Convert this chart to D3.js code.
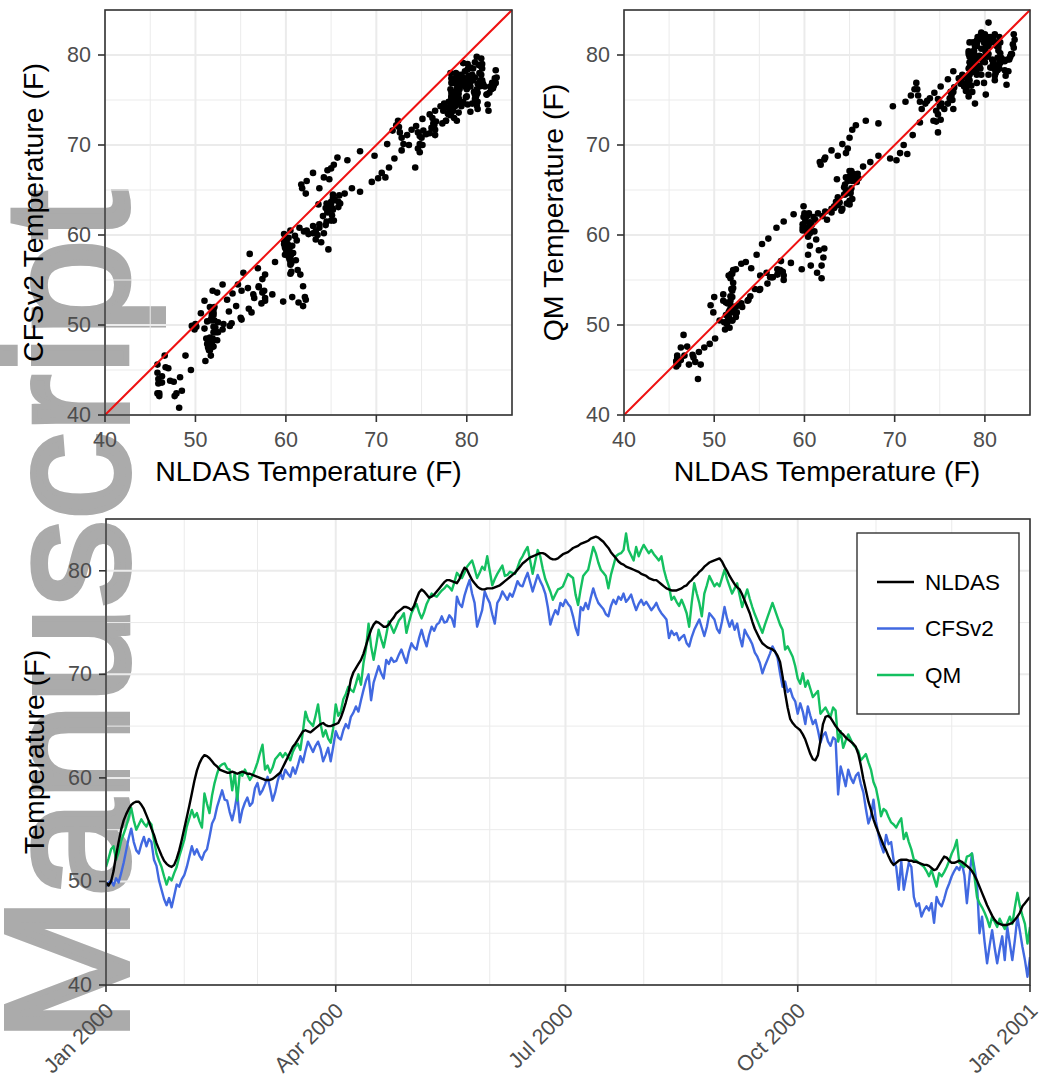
<!DOCTYPE html>
<html>
<head>
<meta charset="utf-8">
<script src="https://cdn.jsdelivr.net/npm/d3@7"></script>
<style>
  body { margin: 0; background: #fff; }
  text { font-family: "Liberation Sans", Arial, Helvetica, sans-serif; }
</style>
</head>
<body>
<svg width="1040" height="1086"></svg>
<script>
// Daily temperatures (F), Jan 1 2000 .. Jan 1 2001
var nldas = [
  49.9, 49.6, 50.0, 51.0, 52.5, 53.8, 55.0, 55.9, 56.5, 57.0,
  57.4, 57.6, 57.7, 57.7, 57.4, 57.0, 56.4, 55.8, 55.1, 54.5,
  53.7, 53.1, 52.5, 52.0, 51.7, 51.5, 51.4, 51.6, 52.2, 53.0,
  54.0, 55.1, 56.2, 57.3, 58.5, 59.7, 60.7, 61.4, 61.9, 62.2,
  62.1, 61.9, 61.6, 61.3, 61.1, 60.8, 60.7, 60.6, 60.5, 60.5,
  60.6, 60.5, 60.4, 60.5, 60.6, 60.5, 60.4, 60.4, 60.3, 60.2,
  60.1, 60.0, 59.9, 59.8, 59.8, 59.8, 59.9, 60.1, 60.3, 60.5,
  61.0, 61.5, 62.0, 62.5, 63.0, 63.3, 63.7, 64.1, 64.5, 64.6,
  64.5, 64.4, 64.6, 64.8, 65.0, 65.2, 65.3, 65.1, 65.0, 65.0,
  65.1, 65.2, 65.3, 65.8, 66.5, 67.3, 68.2, 69.5, 70.2, 70.6,
  71.0, 71.4, 72.0, 72.8, 73.6, 74.3, 74.8, 75.1, 75.0, 74.8,
  74.6, 74.6, 74.8, 75.2, 75.5, 75.9, 76.1, 76.3, 76.5, 76.5,
  76.4, 76.2, 76.6, 77.3, 77.9, 78.2, 78.0, 77.7, 77.4, 77.5,
  77.7, 78.0, 78.3, 78.6, 78.9, 79.1, 79.1, 79.0, 78.9, 78.8,
  79.2, 79.8, 80.3, 80.1, 79.6, 79.1, 78.8, 78.5, 78.3, 78.2,
  78.2, 78.3, 78.3, 78.3, 78.4, 78.5, 78.6, 78.8, 79.0, 79.2,
  79.4, 79.6, 79.8, 80.1, 80.4, 80.7, 80.9, 81.1, 81.3, 81.4,
  81.5, 81.6, 81.7, 81.7, 81.6, 81.4, 81.2, 81.1, 81.1, 81.2,
  81.4, 81.6, 81.7, 81.8, 82.0, 82.2, 82.3, 82.4, 82.6, 82.7,
  82.8, 82.9, 83.1, 83.2, 83.3, 83.2, 83.0, 82.8, 82.5, 82.2,
  81.8, 81.5, 81.2, 80.9, 80.7, 80.6, 80.4, 80.3, 80.2, 80.1,
  80.0, 79.9, 79.7, 79.6, 79.5, 79.3, 79.2, 79.1, 79.1, 78.9,
  78.7, 78.5, 78.3, 78.2, 78.1, 78.1, 78.1, 78.2, 78.3, 78.5,
  78.6, 78.9, 79.1, 79.4, 79.6, 79.9, 80.1, 80.4, 80.6, 80.8,
  80.9, 81.0, 81.1, 81.2, 80.9, 80.4, 80.0, 79.5, 79.1, 78.7,
  78.4, 78.2, 77.7, 77.1, 76.5, 75.9, 75.1, 74.4, 73.9, 73.4,
  73.0, 72.8, 72.6, 72.5, 72.4, 72.2, 71.8, 71.2, 69.8, 68.2,
  66.8, 65.7, 65.3, 65.0, 64.8, 64.6, 64.2, 63.7, 63.0, 62.3,
  61.8, 61.7, 62.2, 63.6, 65.2, 65.9, 66.0, 65.8, 65.4, 65.0,
  64.7, 64.4, 64.2, 63.9, 63.7, 63.5, 63.3, 63.0, 62.3, 61.2,
  59.9, 58.8, 57.7, 56.9, 56.0, 55.3, 54.7, 54.1, 53.5, 53.0,
  52.4, 51.9, 51.6, 51.8, 52.0, 52.1, 52.1, 52.1, 52.0, 52.0,
  51.9, 51.9, 51.8, 51.7, 51.6, 51.6, 51.5, 51.3, 51.1, 51.2,
  51.6, 52.0, 52.4, 52.3, 52.0, 51.8, 51.8, 51.9, 52.0, 51.9,
  51.7, 51.5, 51.3, 51.0, 50.6, 50.1, 49.5, 48.9, 48.3, 47.7,
  47.2, 46.7, 46.3, 46.0, 45.9, 45.8, 45.8, 45.8, 45.9, 46.0,
  46.3, 46.6, 47.0, 47.6, 47.9, 48.2, 48.5
];

var cfsv2 = [
  49.5, 49.9, 50.1, 49.6, 50.3, 49.9, 50.8, 51.8, 53.0, 54.2,
  55.1, 53.8, 53.0, 52.7, 53.6, 54.3, 53.4, 54.1, 53.8, 52.1,
  51.5, 50.1, 49.2, 48.3, 47.7, 48.4, 47.5, 48.6, 49.7, 49.5,
  50.2, 50.6, 51.4, 52.4, 53.4, 52.6, 53.1, 52.5, 52.1, 52.8,
  53.1, 54.3, 55.6, 56.1, 57.2, 58.0, 58.8, 57.9, 57.8, 56.7,
  55.9, 57.0, 58.5, 55.7, 56.9, 57.6, 58.1, 57.3, 57.6, 59.0,
  59.5, 58.4, 58.8, 59.4, 60.1, 59.0, 57.8, 58.6, 59.7, 60.5,
  59.9, 60.8, 60.4, 60.1, 61.0, 60.4, 61.2, 62.1, 61.5, 62.6,
  63.5, 63.0, 62.5, 63.1, 63.5, 62.8, 61.6, 62.2, 62.9, 61.6,
  63.0, 64.5, 63.9, 63.7, 64.6, 65.2, 64.8, 65.9, 66.3, 66.9,
  66.4, 67.5, 68.5, 69.4, 70.0, 67.5, 69.2, 70.0, 70.8, 70.1,
  69.6, 71.4, 71.0, 71.6, 71.2, 71.3, 71.9, 72.4, 71.7, 71.1,
  72.2, 73.0, 72.6, 72.4, 73.5, 74.3, 73.4, 72.7, 73.8, 74.6,
  74.2, 74.8, 75.0, 75.6, 75.0, 75.1, 75.7, 75.4, 74.6, 77.5,
  76.8, 76.5, 77.6, 78.4, 79.1, 77.8, 76.9, 74.6, 75.4, 76.2,
  78.0, 77.4, 76.9, 75.8, 74.9, 76.9, 77.3, 78.0, 77.6, 77.2,
  77.8, 77.5, 78.2, 79.0, 78.6, 78.5, 79.2, 79.8, 78.9, 78.0,
  78.8, 79.6, 79.0, 78.5, 77.8, 76.5, 74.8, 75.6, 76.2, 75.8,
  76.9, 76.6, 77.2, 76.8, 76.5, 75.6, 74.5, 73.8, 76.5, 76.2,
  76.9, 76.3, 77.4, 78.3, 77.5, 76.9, 76.6, 76.3, 75.8, 75.6,
  76.6, 77.2, 76.8, 77.5, 77.2, 77.8, 77.0, 77.3, 77.7, 76.9,
  76.2, 76.8, 77.2, 76.7, 77.0, 76.6, 76.2, 76.5, 76.9, 76.3,
  75.9, 75.6, 75.3, 73.5, 74.2, 73.8, 74.0, 73.3, 73.6, 73.8,
  73.0, 72.7, 73.6, 74.3, 74.8, 75.3, 74.5, 73.7, 74.6, 75.9,
  75.6, 75.3, 74.4, 74.0, 75.1, 76.5, 75.4, 74.6, 75.2, 74.3,
  74.9, 73.6, 72.7, 74.3, 73.8, 73.4, 72.9, 72.1, 71.7, 71.1,
  70.1, 70.8, 71.4, 72.0, 72.7, 72.2, 71.6, 70.1, 68.8, 69.3,
  68.3, 68.6, 67.8, 67.4, 66.2, 67.2, 66.4, 65.2, 66.9, 66.0,
  65.2, 65.6, 64.6, 63.4, 64.1, 64.4, 63.5, 63.1, 63.9, 63.7,
  58.4, 61.1, 60.2, 59.2, 60.8, 60.0, 59.5, 60.2, 60.5, 59.4,
  58.6, 57.0, 55.6, 56.3, 57.9, 55.8, 54.5, 53.5, 52.8, 54.5,
  53.6, 53.8, 52.0, 51.4, 49.2, 52.0, 49.2, 50.5, 51.8, 51.4,
  48.5, 47.6, 47.9, 46.6, 47.2, 47.6, 47.2, 47.9, 46.0, 48.5,
  47.9, 47.6, 48.3, 49.2, 49.8, 50.5, 51.0, 51.4, 51.1, 51.8,
  50.6, 47.9, 50.4, 52.7, 51.3, 49.8, 45.0, 46.6, 44.2, 42.1,
  43.8, 45.3, 43.6, 42.1, 43.5, 44.7, 42.4, 45.6, 44.0, 42.4,
  44.3, 46.6, 45.2, 43.7, 42.4, 40.8, 42.7
];

var qm = [
  51.4, 52.2, 53.1, 53.4, 52.1, 52.8, 53.9, 54.6, 55.3, 56.2,
  57.1, 55.9, 55.0, 55.5, 56.0, 55.6, 55.3, 55.8, 55.5, 54.0,
  52.7, 52.0, 51.4, 50.5, 49.7, 50.4, 50.1, 50.8, 51.4, 52.4,
  53.2, 54.0, 55.3, 56.1, 56.9, 56.2, 56.6, 55.8, 55.2, 58.5,
  57.5, 56.6, 58.3, 59.5, 60.4, 61.1, 61.3, 61.4, 60.9, 60.8,
  58.8, 60.5, 57.8, 60.5, 60.2, 60.8, 60.3, 59.8, 60.2, 60.8,
  61.5, 62.4, 63.2, 60.8, 61.2, 60.5, 61.0, 61.8, 62.1, 62.4,
  62.0, 62.4, 62.1, 61.7, 62.5, 63.0, 63.3, 62.7, 64.5, 66.4,
  65.6, 65.3, 65.0, 66.0, 67.1, 65.2, 64.0, 64.6, 63.8, 63.4,
  64.8, 67.1, 66.0, 66.4, 67.6, 68.1, 68.8, 68.5, 68.3, 69.1,
  70.0, 69.0, 71.1, 72.5, 74.9, 72.7, 71.4, 72.8, 74.3, 73.4,
  72.6, 73.8, 75.1, 74.6, 74.0, 74.6, 75.2, 75.5, 75.9, 74.0,
  75.0, 75.9, 76.4, 76.8, 76.0, 75.4, 76.0, 76.8, 77.3, 77.8,
  77.6, 77.5, 77.8, 78.1, 78.3, 78.6, 78.4, 78.1, 78.9, 79.8,
  79.5, 79.3, 79.8, 80.4, 80.7, 81.0, 80.2, 79.3, 79.8, 80.4,
  80.1, 81.4, 80.0, 78.6, 79.2, 79.7, 80.1, 80.5, 79.5, 79.6,
  79.9, 79.8, 79.7, 80.3, 81.0, 81.4, 81.9, 82.3, 81.0, 79.7,
  80.9, 82.0, 81.4, 80.2, 79.2, 78.6, 78.0, 77.2, 77.7, 78.2,
  78.3, 78.5, 79.1, 79.7, 79.5, 79.3, 77.7, 76.7, 78.2, 79.5,
  79.8, 80.1, 81.2, 82.3, 81.7, 80.8, 80.1, 79.8, 79.5, 78.3,
  79.6, 80.5, 81.4, 81.6, 81.7, 82.0, 83.6, 82.0, 81.5, 81.0,
  82.3, 81.4, 82.0, 82.5, 82.1, 81.7, 82.0, 81.6, 81.3, 81.0,
  81.4, 80.1, 79.2, 78.5, 77.2, 77.5, 77.0, 76.6, 77.2, 76.6,
  75.9, 74.6, 76.9, 78.8, 77.8, 76.9, 75.6, 77.8, 78.6, 79.5,
  79.0, 78.5, 78.8, 78.5, 79.3, 80.1, 79.2, 78.5, 77.8, 78.3,
  78.8, 77.6, 76.5, 77.4, 78.2, 77.3, 76.5, 75.8, 75.2, 74.6,
  74.0, 74.8, 75.5, 76.2, 76.9, 76.2, 75.5, 74.8, 74.3, 72.4,
  72.7, 72.2, 71.7, 70.8, 69.6, 69.1, 70.1, 68.8, 69.4, 68.6,
  67.8, 68.1, 68.4, 66.2, 66.5, 66.8, 66.3, 65.9, 66.8, 66.5,
  63.5, 64.5, 62.9, 63.6, 64.2, 63.7, 63.2, 62.9, 62.6, 61.7,
  62.0, 62.3, 61.5, 60.8, 59.6, 59.0, 57.8, 56.3, 57.0, 56.8,
  56.2, 55.7, 55.5, 55.2, 55.7, 56.1, 54.1, 54.7, 53.8, 53.1,
  52.1, 52.0, 51.8, 51.6, 51.4, 51.0, 50.5, 51.1, 50.3, 49.5,
  50.8, 50.5, 50.9, 51.4, 52.0, 52.7, 53.2, 54.0, 51.8, 51.6,
  51.4, 52.4, 52.5, 52.7, 50.5, 48.5, 47.9, 47.5, 47.0, 46.4,
  45.6, 46.6, 46.1, 45.6, 46.4, 45.9, 45.4, 46.0, 46.6, 45.9,
  47.5, 48.9, 47.6, 46.7, 45.9, 44.0, 45.6
];

var seriesNames = ["NLDAS", "CFSv2", "QM"];
var seriesColors = ["#000000", "#4169e1", "#14c060"];
var tempTicks = [40, 50, 60, 70, 80];
var tempMinor = [45, 55, 65, 75, 85];

var svg = d3.select("svg");
var grid = "#ebebeb", dark = "#333333", tickText = "#4d4d4d";

// watermark, drawn under everything
svg.append("text")
    .attr("transform", "translate(127,1042) rotate(-90)")
    .attr("font-size", 174)
    .attr("fill", "#ababab")
    .attr("stroke", "#ababab")
    .attr("stroke-width", 6)
    .attr("stroke-linejoin", "miter")
    .text("Manuscript");

var days = d3.timeDay.range(new Date(2000, 0, 1), new Date(2001, 0, 2));

// gridlines, ticks, labels for one panel
function frame(g, x, y, xMajor, xMinor, xFormat, yTitle, yTitleX) {
    var x0 = x.range()[0], x1 = x.range()[1], y0 = y.range()[0], y1 = y.range()[1];

    g.selectAll(".minx").data(xMinor).enter().append("line")
        .attr("x1", d => x(d)).attr("x2", d => x(d)).attr("y1", y0).attr("y2", y1)
        .attr("stroke", grid).attr("stroke-width", 1);
    g.selectAll(".miny").data(tempMinor).enter().append("line")
        .attr("x1", x0).attr("x2", x1).attr("y1", d => y(d)).attr("y2", d => y(d))
        .attr("stroke", grid).attr("stroke-width", 1);
    g.selectAll(".majx").data(xMajor).enter().append("line")
        .attr("x1", d => x(d)).attr("x2", d => x(d)).attr("y1", y0).attr("y2", y1)
        .attr("stroke", grid).attr("stroke-width", 2);
    g.selectAll(".majy").data(tempTicks).enter().append("line")
        .attr("x1", x0).attr("x2", x1).attr("y1", d => y(d)).attr("y2", d => y(d))
        .attr("stroke", grid).attr("stroke-width", 2);

    // ticks
    g.selectAll(".tx").data(xMajor).enter().append("line")
        .attr("x1", d => x(d)).attr("x2", d => x(d)).attr("y1", y0).attr("y2", y0 + 7)
        .attr("stroke", dark).attr("stroke-width", 1.6);
    g.selectAll(".ty").data(tempTicks).enter().append("line")
        .attr("x1", x0 - 7).attr("x2", x0).attr("y1", d => y(d)).attr("y2", d => y(d))
        .attr("stroke", dark).attr("stroke-width", 1.6);

    g.selectAll(".ly").data(tempTicks).enter().append("text")
        .attr("x", x0 - 14).attr("y", d => y(d))
        .attr("text-anchor", "end").attr("dominant-baseline", "central")
        .attr("font-size", 21.5).attr("fill", tickText)
        .text(d => d);

    if (xFormat) {
        g.selectAll(".lx").data(xMajor).enter().append("text")
            .attr("transform", d => "translate(" + (x(d) + 9) + "," + (y0 + 27) + ") rotate(-45)")
            .attr("text-anchor", "end")
            .attr("font-size", 21.5).attr("fill", tickText)
            .text(xFormat);
    } else {
        g.selectAll(".lx").data(xMajor).enter().append("text")
            .attr("x", d => x(d)).attr("y", y0 + 32)
            .attr("text-anchor", "middle")
            .attr("font-size", 21.5).attr("fill", tickText)
            .text(d => d);
        g.append("text")
            .attr("x", (x0 + x1) / 2).attr("y", y0 + 66)
            .attr("text-anchor", "middle").attr("font-size", 28.5)
            .text("NLDAS Temperature (F)");
    }

    g.append("text")
        .attr("transform", "translate(" + yTitleX + "," + ((y0 + y1) / 2) + ") rotate(-90)")
        .attr("text-anchor", "middle").attr("font-size", 28.5)
        .text(yTitle);
}

function border(g, x, y) {
    g.append("rect")
        .attr("x", x.range()[0]).attr("y", y.range()[1])
        .attr("width", x.range()[1] - x.range()[0])
        .attr("height", y.range()[0] - y.range()[1])
        .attr("fill", "none").attr("stroke", dark).attr("stroke-width", 1.6);
}

// scatter panels: NLDAS on x against a model series on y
function scatter(left, right, yVals, yTitle, yTitleX) {
    var g = svg.append("g");
    var x = d3.scaleLinear().domain([40, 85]).range([left, right]);
    var y = d3.scaleLinear().domain([40, 85]).range([415, 10]);
    frame(g, x, y, tempTicks, tempMinor, null, yTitle, yTitleX);

    var pts = nldas.map((d, i) => [d, yVals[i]]);
    g.selectAll(".pt").data(pts).enter().append("circle")
        .attr("cx", d => x(d[0])).attr("cy", d => y(d[1]))
        .attr("r", 3.3).attr("fill", "#000");

    g.append("line")
        .attr("x1", x(40)).attr("y1", y(40)).attr("x2", x(85)).attr("y2", y(85))
        .attr("stroke", "#ee1111").attr("stroke-width", 2);
    border(g, x, y);
}

scatter(105, 512, cfsv2, "CFSv2 Temperature (F)", 43);
scatter(624, 1030, qm, "QM Temperature (F)", 563);

// time series panel
var gb = svg.append("g");
var xt = d3.scaleTime().domain([new Date(2000, 0, 1), new Date(2001, 0, 1)]).range([106, 1030]);
var yt = d3.scaleLinear().domain([40, 85]).range([985, 519]);
var majorDates = d3.timeMonth.every(3).range(new Date(2000, 0, 1), new Date(2001, 0, 2));
var minorDates = d3.timeMonth.range(new Date(2000, 0, 1), new Date(2001, 0, 1))
    .filter(d => d.getMonth() % 3 !== 0);
frame(gb, xt, yt, majorDates, minorDates, d3.timeFormat("%b %Y"), "Temperature (F)", 44);

svg.append("clipPath").attr("id", "clipb").append("rect")
    .attr("x", 106).attr("y", 519).attr("width", 924).attr("height", 466);

var line = d3.line()
    .x((d, i) => xt(days[i]))
    .y(d => yt(d));

// black drawn last, on top
var drawOrder = [[cfsv2, 1], [qm, 2], [nldas, 0]];
drawOrder.forEach(function (s) {
    gb.append("path")
        .attr("clip-path", "url(#clipb)")
        .attr("d", line(s[0]))
        .attr("fill", "none")
        .attr("stroke", seriesColors[s[1]])
        .attr("stroke-width", 2.4)
        .attr("stroke-linejoin", "round");
});
border(gb, xt, yt);

// legend
var lg = svg.append("g");
lg.append("rect")
    .attr("x", 857).attr("y", 533).attr("width", 162).attr("height", 181)
    .attr("fill", "#fff").attr("stroke", dark).attr("stroke-width", 1.4);
seriesNames.forEach(function (name, i) {
    var cy = 582 + i * 46.5;
    lg.append("line")
        .attr("x1", 877).attr("x2", 914).attr("y1", cy).attr("y2", cy)
        .attr("stroke", seriesColors[i]).attr("stroke-width", 2.5);
    lg.append("text")
        .attr("x", 925).attr("y", cy)
        .attr("dominant-baseline", "central")
        .attr("font-size", 22.5)
        .text(name);
});
</script>
</body>
</html>
